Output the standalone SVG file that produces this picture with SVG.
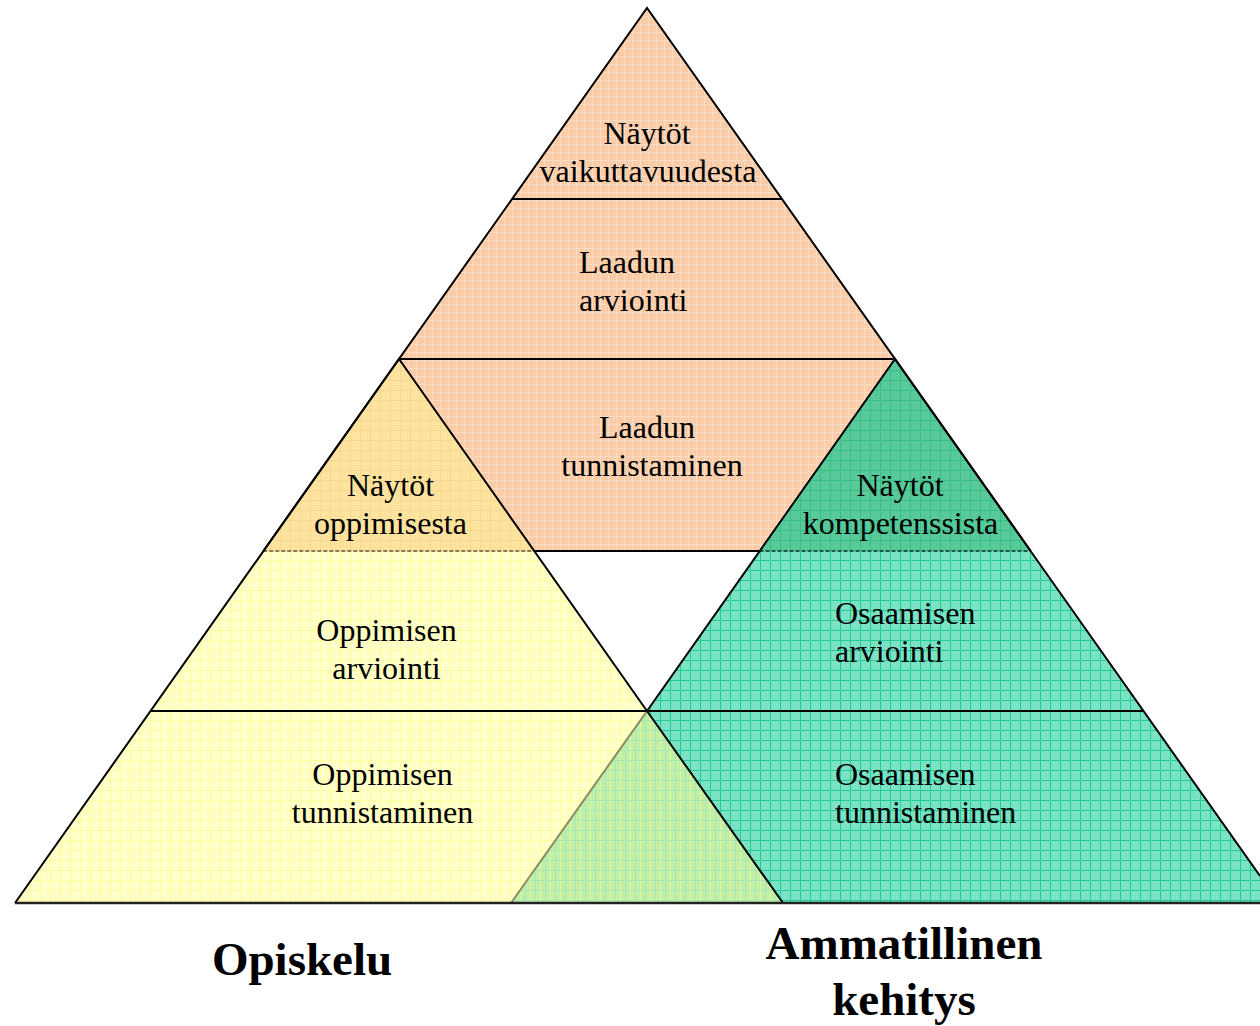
<svg xmlns="http://www.w3.org/2000/svg" width="1260" height="1026" viewBox="0 0 1260 1026">
<style>
.t{font-family:"Liberation Serif","Times New Roman",serif;font-size:32px;fill:#000}
.c{text-anchor:middle}
.b{font-family:"Liberation Serif","Times New Roman",serif;font-size:47px;font-weight:bold;fill:#000;text-anchor:middle}
.ln{stroke:#000;stroke-width:2;fill:none;stroke-linejoin:miter}
.dl{stroke-width:2;fill:none;stroke-dasharray:4 2}
</style>
<defs>
<pattern id="pO" patternUnits="userSpaceOnUse" width="8" height="8">
<rect width="8" height="8" fill="#FACDA8"/>
<path d="M0 0.5H8M0.5 0V8" stroke="#FCDCC3" stroke-width="1"/>
</pattern>
<pattern id="pY" patternUnits="userSpaceOnUse" width="10" height="10">
<rect width="10" height="10" fill="#FFFFC9"/>
<path d="M0 0.5H10M0.5 0V10" stroke="#FFFF9E" stroke-width="1"/>
</pattern>
<pattern id="pOY" patternUnits="userSpaceOnUse" width="10" height="10">
<rect width="10" height="10" fill="#FDE39E"/>
<path d="M0 0.5H10M0.5 0V10" stroke="#F8D890" stroke-width="1"/>
</pattern>
<pattern id="pG" patternUnits="userSpaceOnUse" width="10" height="10">
<rect width="10" height="10" fill="#7CE2C4"/>
<path d="M0 0.5H10M0.5 0V10" stroke="#22CC98" stroke-width="1"/>
</pattern>
<pattern id="pOG" patternUnits="userSpaceOnUse" width="10" height="10">
<rect width="10" height="10" fill="#58C998"/>
<path d="M0 0.5H10M0.5 0V10" stroke="#38BE8A" stroke-width="1"/>
</pattern>
<pattern id="pYG" patternUnits="userSpaceOnUse" width="10" height="10">
<rect width="10" height="10" fill="#C2EFA8"/>
<path d="M0.5 0V10" stroke="#E4F896" stroke-width="1"/>
<path d="M0 0.5H10M5.5 0V10" stroke="#A8E8B4" stroke-width="1"/>
</pattern>
</defs>

<g id="fills">
<polygon id="top-orange" points="647,8 399,359 534.5,551 759.5,551 895,359" fill="url(#pO)"/>
<polygon id="overlap-orange-yellow" points="399,359 263.3,551 534.5,551" fill="url(#pOY)"/>
<polygon id="overlap-orange-green" points="895,359 759.5,551 1030.7,551" fill="url(#pOG)"/>
<polygon id="left-yellow" points="263.3,551 15,903 511,903 647,711 534.5,551" fill="url(#pY)"/>
<polygon id="overlap-yellow-green" points="647,711 511,903 783,903" fill="url(#pYG)"/>
<polygon id="right-green" points="759.5,551 647,711 783,903 1260,903 1260,876 1030.7,551" fill="url(#pG)"/>
</g>

<g id="connectors">
<line class="dl" x1="263.3" y1="551" x2="534.5" y2="551" stroke="#8A7A50"/>
<line class="dl" x1="759.5" y1="551" x2="1030.7" y2="551" stroke="#1F5A45"/>
<line x1="511" y1="903" x2="647" y2="711" stroke="#8A8A60" stroke-width="2"/>
<line class="ln" x1="534.5" y1="551" x2="759.5" y2="551"/>
<polyline class="ln" points="263.3,551 647,8 1030.7,551"/>
<line class="ln" x1="512" y1="199" x2="782" y2="199"/>
<line class="ln" x1="399" y1="359" x2="895" y2="359"/>
<polyline class="ln" points="15,903 399,359 647,711"/>
<polyline class="ln" points="647,711 895,359 1260,876"/>
<line class="ln" x1="647" y1="711" x2="783" y2="903"/>
<line class="ln" x1="150.5" y1="711" x2="1143.5" y2="711"/>
<line x1="15" y1="903" x2="1260" y2="903" stroke="#222" stroke-width="2.5"/>
</g>

<g id="node-vaikuttavuus">
<text class="t c" x="647" y="144">Näytöt</text>
<text class="t c" x="648" y="182">vaikuttavuudesta</text>
</g>
<g id="node-laadun-arviointi">
<text class="t" x="579" y="273">Laadun</text>
<text class="t" x="579" y="311">arviointi</text>
</g>
<g id="node-laadun-tunnistaminen">
<text class="t c" x="647" y="438">Laadun</text>
<text class="t c" x="652" y="476">tunnistaminen</text>
</g>
<g id="node-naytot-oppimisesta">
<text class="t c" x="390.5" y="496">Näytöt</text>
<text class="t c" x="390.5" y="534">oppimisesta</text>
</g>
<g id="node-oppimisen-arviointi">
<text class="t c" x="386.5" y="641">Oppimisen</text>
<text class="t c" x="386.5" y="679">arviointi</text>
</g>
<g id="node-oppimisen-tunnistaminen">
<text class="t c" x="382.5" y="785">Oppimisen</text>
<text class="t c" x="382.5" y="823">tunnistaminen</text>
</g>
<g id="node-naytot-kompetenssista">
<text class="t c" x="900" y="496">Näytöt</text>
<text class="t c" x="900.5" y="534">kompetenssista</text>
</g>
<g id="node-osaamisen-arviointi">
<text class="t" x="835" y="624">Osaamisen</text>
<text class="t" x="835" y="662">arviointi</text>
</g>
<g id="node-osaamisen-tunnistaminen">
<text class="t" x="835" y="785">Osaamisen</text>
<text class="t" x="835" y="823">tunnistaminen</text>
</g>
<g id="label-opiskelu">
<text class="b" x="302" y="975">Opiskelu</text>
</g>
<g id="label-ammatillinen">
<text class="b" x="904" y="959">Ammatillinen</text>
<text class="b" x="904" y="1015">kehitys</text>
</g>
</svg>
